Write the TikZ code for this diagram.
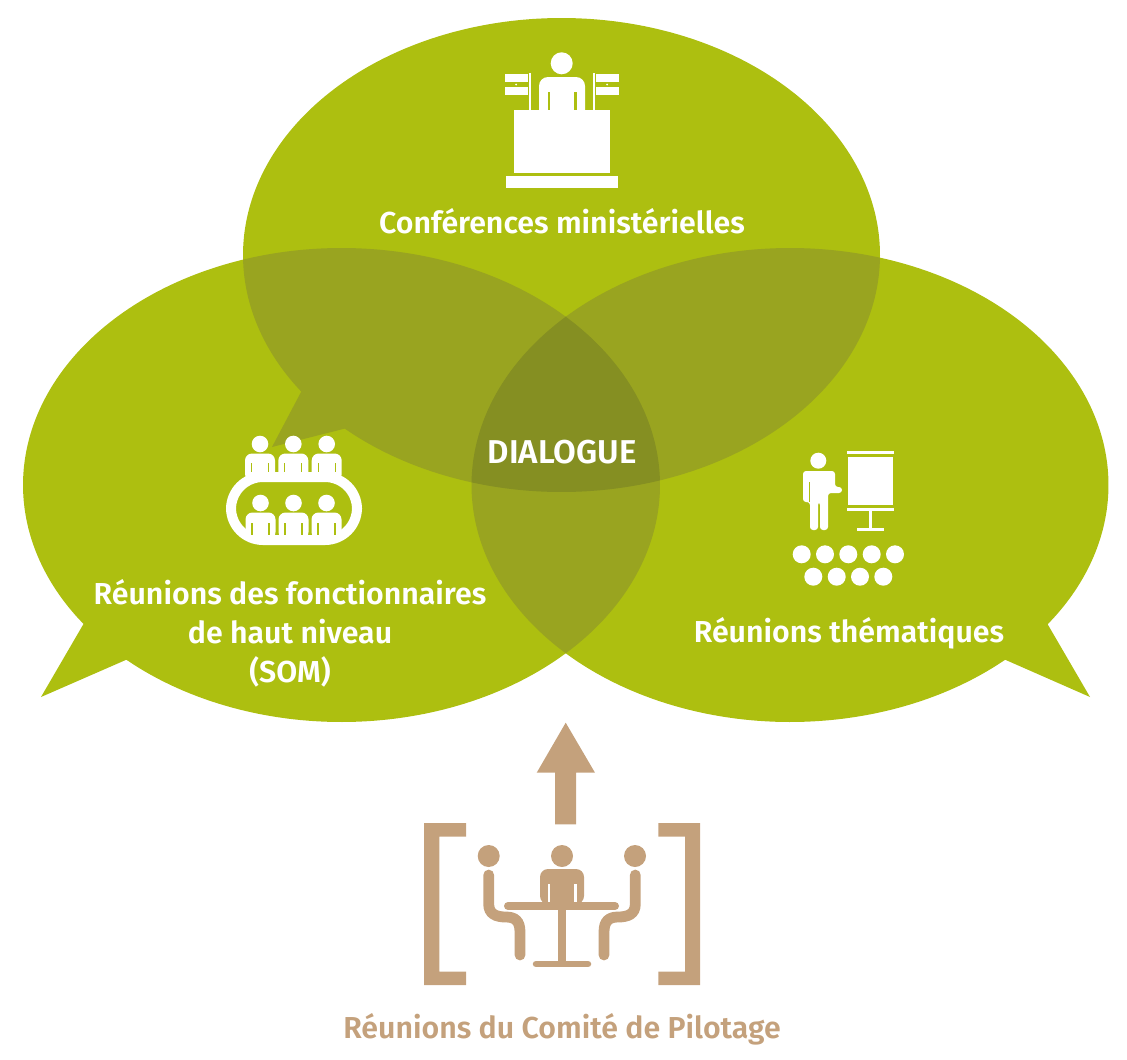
\documentclass[tikz,border=0pt]{standalone}
\usepackage{fontspec}
\setmainfont{Fira Sans}[BoldFont={Fira Sans SemiBold}]
\usetikzlibrary{positioning}
\definecolor{bubble}{HTML}{ADBF10}
\definecolor{twice}{HTML}{99A420}
\definecolor{thrice}{HTML}{858F22}
\definecolor{tan}{HTML}{C4A17C}
\newcommand{\bubbletop}{plot[domain=144.8:492.9,samples=140,smooth] ({561.5+318.5*cos(\x)},{255+237*sin(\x)}) -- (272,447) -- cycle}
\newcommand{\bubbleleft}{plot[domain=144.1:492.5,samples=140,smooth] ({341.5+318.5*cos(\x)},{485+237*sin(\x)}) -- (41,697) -- cycle}
\newcommand{\bubbleright}{plot[domain=47.5:396,samples=140,smooth] ({790+318.5*cos(\x)},{485+237*sin(\x)}) -- (1090,697) -- cycle}
% one person of the round table
\newcommand{\seated}[3]{
  \fill [white] (#1,#2) circle [radius=8.3];
  \fill [white, rounded corners=7] (#1-15,#3) -- (#1-15,#2+9.5) -- (#1+15,#2+9.5) -- (#1+15,#3) -- cycle;
}
\tikzset{
  bubbletext/.style={text=white, font=\bfseries\fontsize{30.3}{39}\selectfont, align=center, inner sep=0pt},
  gap/.style={draw=bubble, line width=1.2},
  tanstroke/.style={draw=tan, line width=10.8, line cap=round}
}

\begin{document}
\begin{tikzpicture}[x=1pt, y=-1pt]
  \useasboundingbox (0,0) rectangle (1127,1060);

  \fill [bubble] \bubbletop;
  \fill [bubble] \bubbleleft;
  \fill [bubble] \bubbleright;

  \begin{scope}
    \clip \bubbletop;
    \fill [twice] \bubbleleft;
    \fill [twice] \bubbleright;
  \end{scope}
  \begin{scope}
    \clip \bubbleleft;
    \fill [twice] \bubbleright;
  \end{scope}
  \begin{scope}
    \clip \bubbletop;
    \clip \bubbleleft;
    \fill [thrice] \bubbleright;
  \end{scope}

  % minister at the lectern
  \fill [white] (561.7,63.3) circle [radius=11];
  \fill [white, rounded corners=9] (539,120) -- (539,77) -- (585,77) -- (585,120) -- cycle;
  \fill [bubble] (547.7,92) rectangle (549.7,110);
  \fill [bubble] (574.3,92) rectangle (576.6,110);
  \fill [white] (514,110) rectangle (610,173);
  \fill [white] (506,176) rectangle (618,188);
  \fill [white] (529,73) rectangle (531,110);
  \fill [white] (593,73) rectangle (595,110);
  \fill [white] (505,74) rectangle (528,82);
  \fill [white] (505,87) rectangle (528,95);
  \fill [white] (516,84.5) circle [radius=1];
  \fill [white] (596,74) rectangle (619,82);
  \fill [white] (596,87) rectangle (619,95);
  \fill [white] (607,84.5) circle [radius=1];

  % round table
  \seated{260}{444}{481}
  \seated{293.3}{444}{481}
  \seated{326.7}{444}{481}
  \seated{260.5}{503}{539}
  \seated{293.5}{503}{539}
  \seated{326.5}{503}{539}
  \draw [white, line width=10, rounded corners=32] (231,477) rectangle (357,540);
  \draw [gap] (251.5,463) -- (251.5,472) (268.5,463) -- (268.5,472) (284.8,463) -- (284.8,472)
    (301.8,463) -- (301.8,472) (318.2,463) -- (318.2,472) (335.2,463) -- (335.2,472);
  \draw [gap] (252,523) -- (252,535) (269,523) -- (269,535) (285,523) -- (285,535)
    (302,523) -- (302,535) (318,523) -- (318,535) (335,523) -- (335,535);

  % speaker and flipchart
  \fill [white] (818.3,460.7) circle [radius=8];
  \fill [white, rounded corners=3] (803,502) -- (803,471) -- (835,471) -- (835,487) -- (842,487) -- (842,493) -- (828,493) -- (828,530) -- (820,530) -- (820,502) -- (818,502) -- (818,530) -- (810,530) -- (810,502) -- cycle;
  \draw [gap, line width=1] (809.5,482) -- (809.5,502);
  \fill [white] (847,451) rectangle (894,454);
  \fill [white] (848,457) rectangle (893,505);
  \fill [white] (847,508) rectangle (894,511);
  \fill [white] (868.5,511) rectangle (871.5,528);
  \fill [white] (857,527.5) rectangle (884,531);
  \foreach \x in {801.7,825,848.3,871.7,895}
    \fill [white] (\x,554.3) circle [radius=9];
  \foreach \x in {813.3,836.7,860,883.3}
    \fill [white] (\x,576.7) circle [radius=9];

  \node [bubbletext] at (562,221) (conferences) {Conférences ministérielles};
  \node [bubbletext, font=\bfseries\fontsize{33}{39}\selectfont] at (562,452) (dialogue) {DIALOGUE};
  \node [bubbletext] at (290,633.5) (som) {Réunions des fonctionnaires\\de haut niveau\\(SOM)};
  \node [bubbletext] at (849,633) (thematiques) {Réunions thématiques};

  % arrow and brackets
  \fill [tan] (565.7,722.7) -- (595,772.7) -- (576,772.7) -- (576,824.3) -- (555,824.3) -- (555,772.7) -- (536.7,772.7) -- cycle;
  \fill [tan] (466,823) -- (424,823) -- (424,985) -- (466,985) -- (466,971.7) -- (439.3,971.7) -- (439.3,836.7) -- (466,836.7) -- cycle;
  \fill [tan] (658.3,823) -- (700,823) -- (700,985) -- (658.3,985) -- (658.3,971.7) -- (685,971.7) -- (685,836.7) -- (658.3,836.7) -- cycle;

  % steering committee table
  \fill [tan] (488.7,856) circle [radius=11];
  \fill [tan] (562,856) circle [radius=11];
  \fill [tan] (635,856) circle [radius=11];
  \fill [tan, rounded corners=8] (540,904) -- (540,869) -- (584,869) -- (584,904) -- cycle;
  \fill [white] (547.5,884) rectangle (549.5,902);
  \fill [white] (574,884) rectangle (576.5,902);
  \draw [tanstroke, line width=8] (508,906) -- (615,906);
  \fill [tan] (558,906) rectangle (566,964);
  \draw [tanstroke, line width=6.5] (536,964) -- (588,964);
  \draw [tanstroke] (488.7,875) -- (488.7,904) .. controls (488.7,914) and (496,917) .. (506,917) .. controls (515,917) and (520,921) .. (520,932) -- (520,955);
  \draw [tanstroke] (635.3,875) -- (635.3,904) .. controls (635.3,914) and (628,917) .. (618,917) .. controls (609,917) and (604,921) .. (604,932) -- (604,955);

  \node [bubbletext, text=tan] at (562,1029) (comite) {Réunions du Comité de Pilotage};
\end{tikzpicture}
\end{document}
